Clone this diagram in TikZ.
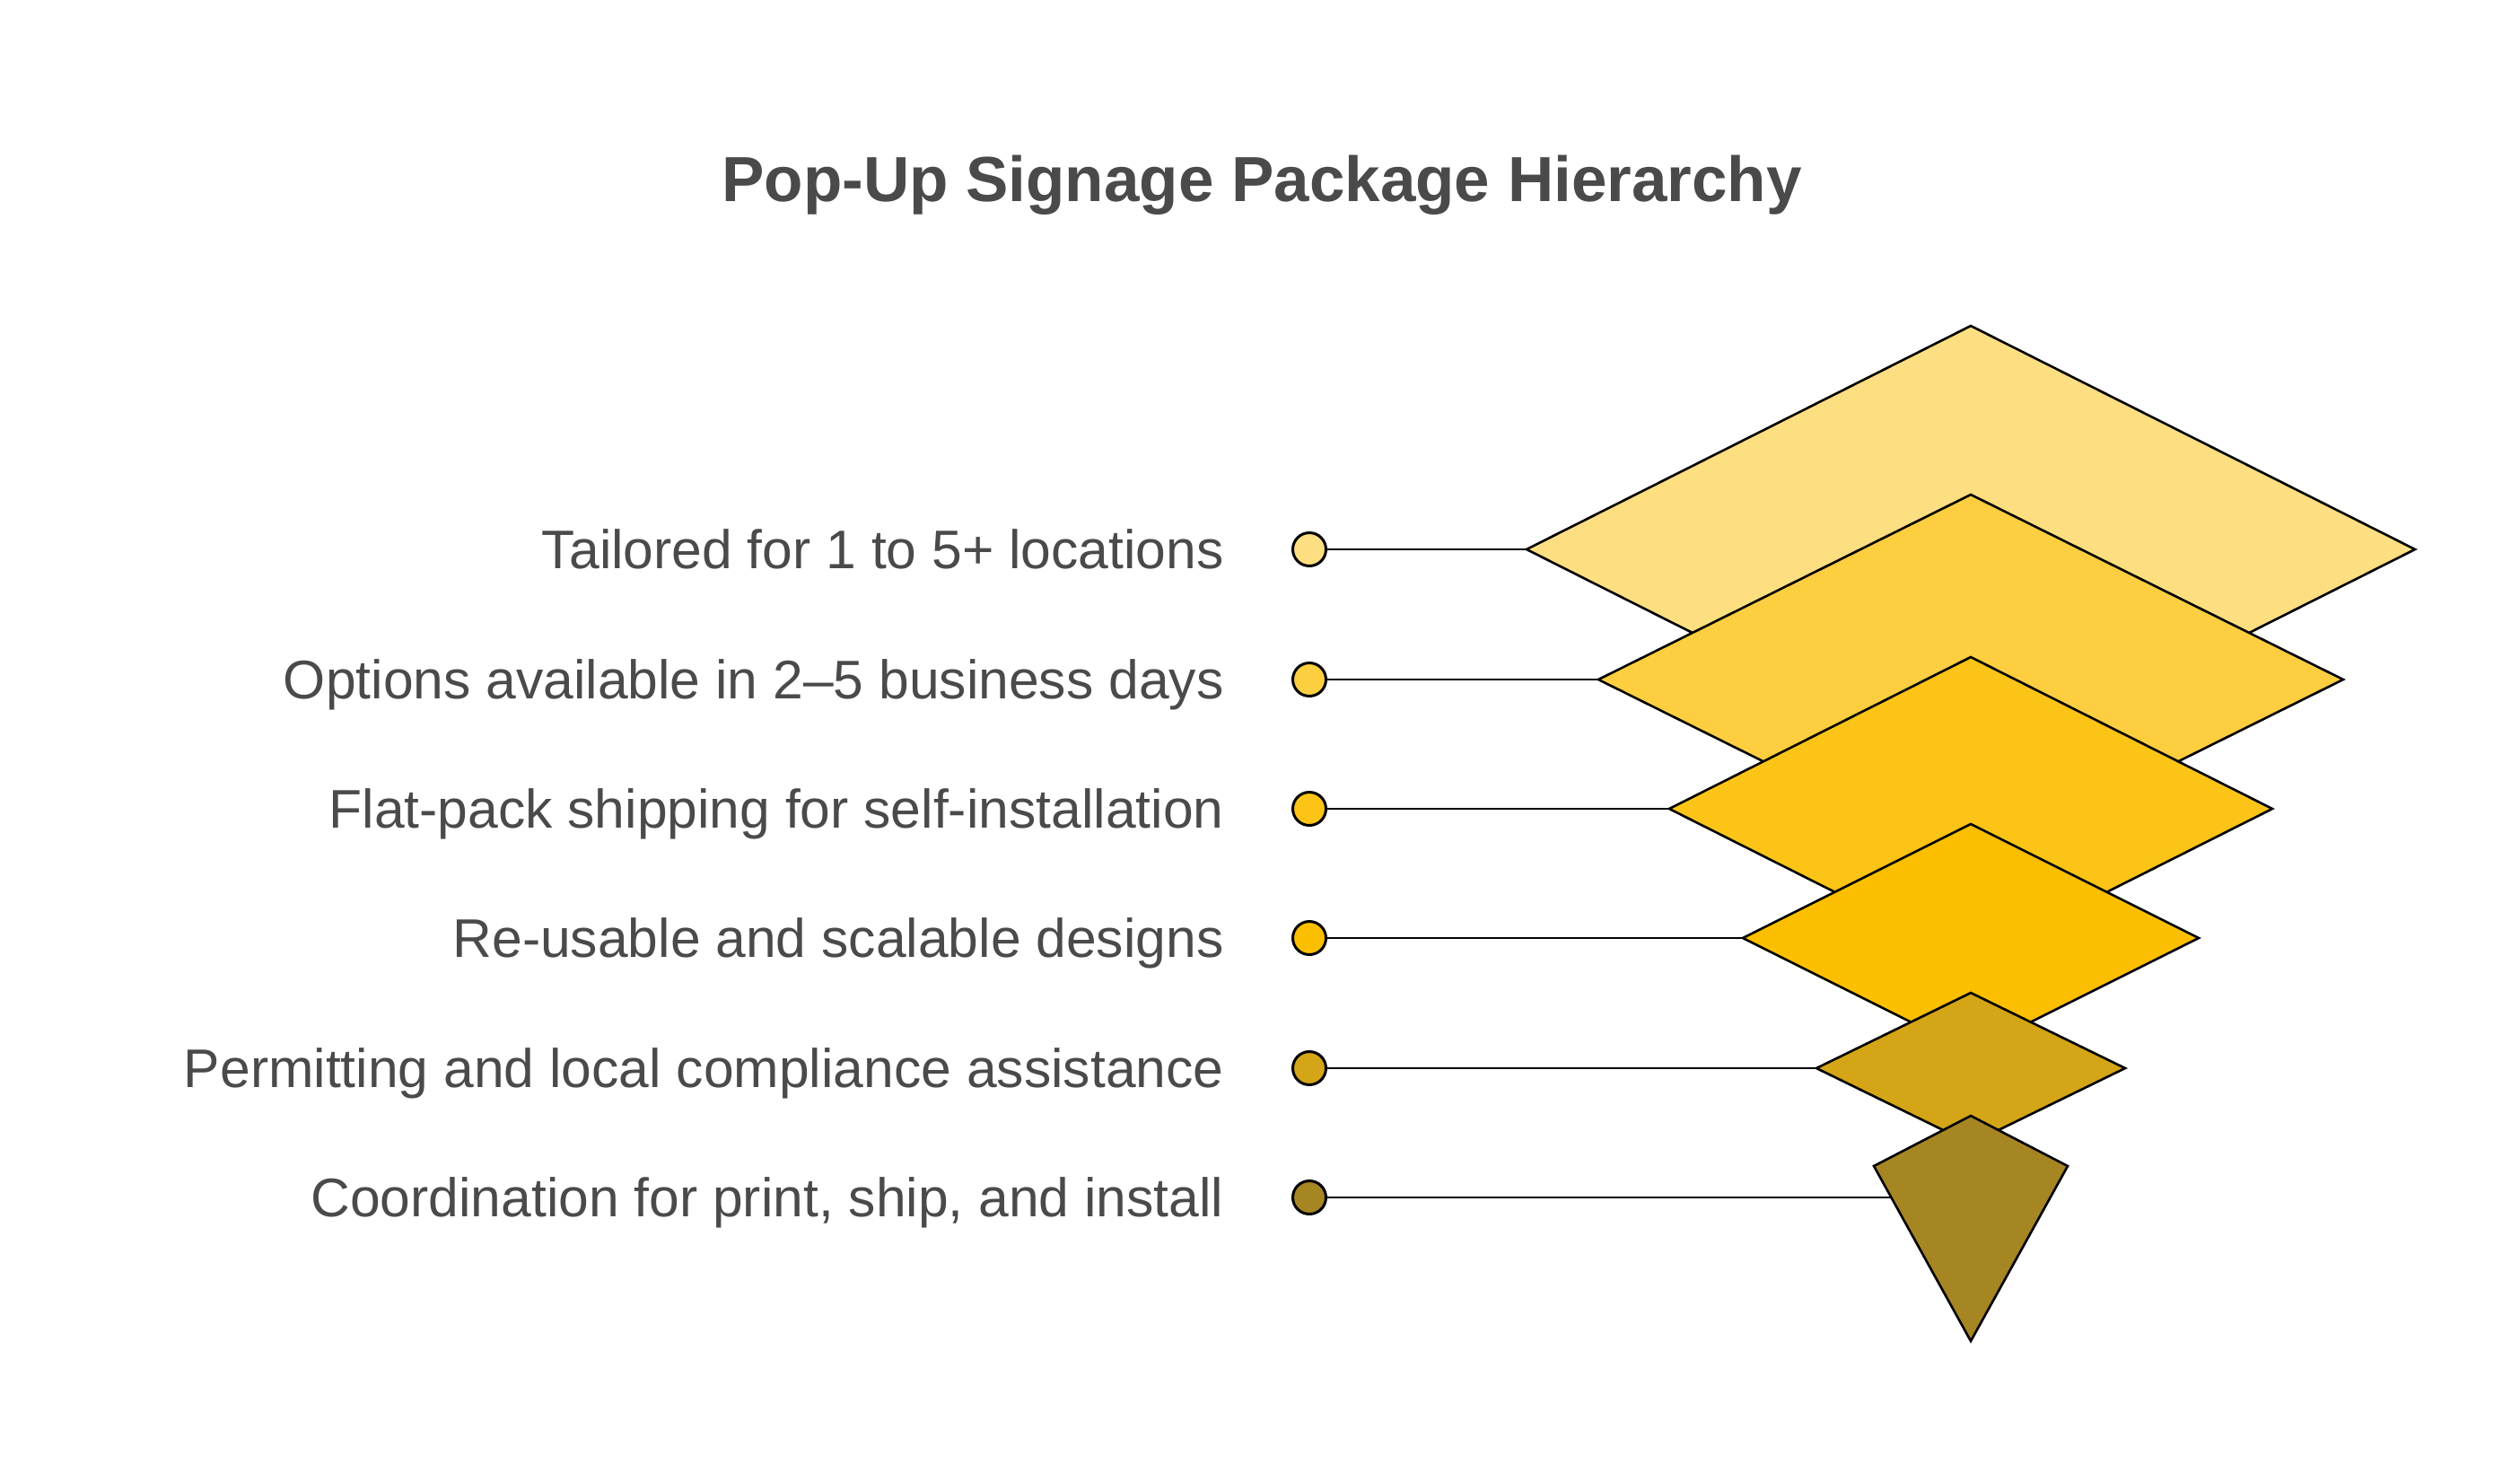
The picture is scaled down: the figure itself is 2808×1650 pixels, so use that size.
\documentclass[tikz,border=0pt]{standalone}
\usepackage{fontspec}
\setmainfont{Liberation Sans}
\definecolor{txt}{HTML}{4A4A4A}
\definecolor{c1}{HTML}{FDDE81}
\definecolor{c2}{HTML}{FDCE40}
\definecolor{c3}{HTML}{FCC417}
\definecolor{c4}{HTML}{FCBF00}
\definecolor{c5}{HTML}{D4A516}
\definecolor{c6}{HTML}{A68523}
\begin{document}
\begin{tikzpicture}[x=0.5pt,y=-0.5pt,
  lbl/.style={anchor=base east,inner sep=0pt,text=txt,font=\fontsize{30.3pt}{36pt}\selectfont},
  dot/.style={circle,draw=black,line width=1.5pt,minimum size=18.5pt,inner sep=0pt},
  conn/.style={draw=black,line width=1.3pt},
  tier/.style={draw=black,line width=1.3pt,line join=miter}]
\useasboundingbox (0,0) rectangle (2808,1650);
\node[anchor=base,inner sep=0pt,text=txt,font=\fontsize{35.5pt}{42pt}\selectfont\bfseries] (title) at (1406,224) {Pop-Up Signage Package Hierarchy};
% rows
\foreach \i/\y in {1/612,2/757,3/901,4/1045,5/1190,6/1334}{
  \coordinate (r\i) at (1459,\y);
}
% diamond vertices (centre x = 2196)
\coordinate (d1t) at (2196,363);  \coordinate (d1l) at (1701,612);  \coordinate (d1r) at (2691,612);  \coordinate (d1b) at (2196,861);
\coordinate (d2t) at (2196,551);  \coordinate (d2l) at (1781,757);  \coordinate (d2r) at (2611,757);  \coordinate (d2b) at (2196,963);
\coordinate (d3t) at (2196,732);  \coordinate (d3l) at (1860,901);  \coordinate (d3r) at (2532,901);  \coordinate (d3b) at (2196,1070);
\coordinate (d4t) at (2196,918);  \coordinate (d4l) at (1942,1045); \coordinate (d4r) at (2450,1045); \coordinate (d4b) at (2196,1172);
\coordinate (d5t) at (2196,1106); \coordinate (d5l) at (2024,1190); \coordinate (d5r) at (2368,1190); \coordinate (d5b) at (2196,1274);
\coordinate (d6t) at (2196,1243); \coordinate (d6l) at (2088,1299); \coordinate (d6r) at (2304,1299); \coordinate (d6b) at (2196,1494);
\coordinate (d6c) at (2196,1334);
% dots
\node[dot,fill=c1] (p1) at (r1) {};
\node[dot,fill=c2] (p2) at (r2) {};
\node[dot,fill=c3] (p3) at (r3) {};
\node[dot,fill=c4] (p4) at (r4) {};
\node[dot,fill=c5] (p5) at (r5) {};
\node[dot,fill=c6] (p6) at (r6) {};
% connectors
\draw[conn] (p1) -- (d1l);
\draw[conn] (p2) -- (d2l);
\draw[conn] (p3) -- (d3l);
\draw[conn] (p4) -- (d4l);
\draw[conn] (p5) -- (d5l);
\draw[conn] (p6) -- (d6c);
% tiers
\filldraw[tier,fill=c1] (d1t) -- (d1r) -- (d1b) -- (d1l) -- cycle;
\filldraw[tier,fill=c2] (d2t) -- (d2r) -- (d2b) -- (d2l) -- cycle;
\filldraw[tier,fill=c3] (d3t) -- (d3r) -- (d3b) -- (d3l) -- cycle;
\filldraw[tier,fill=c4] (d4t) -- (d4r) -- (d4b) -- (d4l) -- cycle;
\filldraw[tier,fill=c5] (d5t) -- (d5r) -- (d5b) -- (d5l) -- cycle;
\filldraw[tier,fill=c6] (d6t) -- (d6r) -- (d6b) -- (d6l) -- cycle;
% labels
\node[lbl] (t1) at (1364,633) {Tailored for 1 to 5+ locations};
\node[lbl] (t2) at (1364,778) {Options available in 2–5 business days};
\node[lbl] (t3) at (1364,922) {Flat-pack shipping for self-installation};
\node[lbl] (t4) at (1364,1066) {Re-usable and scalable designs};
\node[lbl] (t5) at (1364,1211) {Permitting and local compliance assistance};
\node[lbl] (t6) at (1364,1355) {Coordination for print, ship, and install};
\end{tikzpicture}
\end{document}
